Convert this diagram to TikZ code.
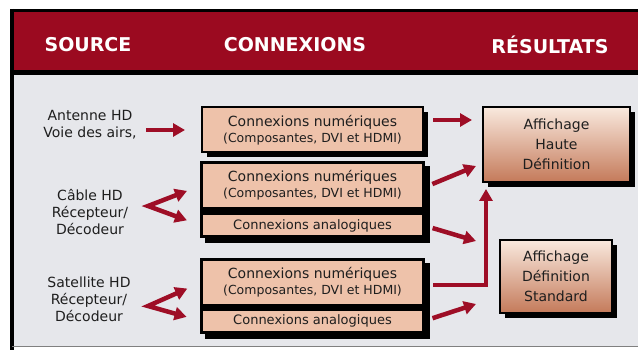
\documentclass[tikz,border=0pt]{standalone}
\usepackage{fontspec}
\setmainfont{DejaVu Sans}
\usetikzlibrary{arrows.meta,shadows,fit,backgrounds}

\definecolor{bandred}{RGB}{155,10,32}
\definecolor{arrred}{RGB}{158,14,38}
\definecolor{panel}{RGB}{230,231,235}
\definecolor{boxtan}{RGB}{238,194,170}
\definecolor{restop}{RGB}{249,233,222}
\definecolor{resbot}{RGB}{196,122,90}
\definecolor{ink}{RGB}{30,30,30}

\tikzset{
  head/.style={text=white, font=\fontsize{19}{22}\selectfont\bfseries},
  srctext/.style={text=ink, align=center, font=\fontsize{14}{17}\selectfont},
  shadowed/.style={drop shadow={shadow xshift=5pt, shadow yshift=-5pt, fill=black, opacity=1}},
  conbox/.style={draw=black, line width=2pt, fill=boxtan, inner sep=0pt,
    minimum width=221pt, text=ink, align=center},
  digbox/.style={conbox, minimum height=45pt, font=\fontsize{14}{17}\selectfont},
  anabox/.style={conbox, minimum height=22pt, font=\fontsize{13}{15}\selectfont},
  groupbox/.style={fill=black, inner sep=1pt, shadowed},
  resbox/.style={draw=black, line width=2pt, top color=restop, bottom color=resbot,
    inner sep=0pt, text=ink, align=center, font=\fontsize{14}{20}\selectfont, shadowed},
  arr/.style={draw=arrred, line width=4.5pt, -{Triangle[length=12pt,width=13pt]}},
  fork/.style={draw=arrred, line width=4.5pt, line join=miter,
    {Triangle[length=12pt,width=13pt]}-{Triangle[length=12pt,width=13pt]}},
}

\newcommand{\subline}[1]{\\[-1pt]{\fontsize{12.5}{15}\selectfont #1}}

\begin{document}
\begin{tikzpicture}[x=1pt, y=-1pt]
\useasboundingbox (0,0) rectangle (638,355);

% connexions
\node[digbox, shadowed] (dig-ant) at (312.5,130) {Connexions numériques\subline{(Composantes, DVI et HDMI)}};
\node[digbox] (dig-cab) at (312.5,185.5) {Connexions numériques\subline{(Composantes, DVI et HDMI)}};
\node[anabox] (ana-cab) at (312.5,225.5) {Connexions analogiques};
\node[digbox] (dig-sat) at (312.5,282.5) {Connexions numériques\subline{(Composantes, DVI et HDMI)}};
\node[anabox] (ana-sat) at (312.5,321) {Connexions analogiques};

\begin{scope}[on background layer]
  % frame and header band
  \fill[white] (0,0) rectangle (638,355);
  \fill[panel] (10,73) rectangle (638,347);
  \fill[black] (10,9) rectangle (638,75);
  \fill[bandred] (14,12) rectangle (638,70);
  \draw[black, line width=4pt] (12,9) -- (12,350);
  \draw[gray, line width=1pt] (12,346.5) -- (638,346.5);
  \node[groupbox, fit=(dig-cab)(ana-cab)] (grp-cab) {};
  \node[groupbox, fit=(dig-sat)(ana-sat)] (grp-sat) {};
\end{scope}

% headers
\node[head] (h-src) at (88,45) {SOURCE};
\node[head] (h-con) at (295,45) {CONNEXIONS};
\node[head] (h-res) at (550,45) {RÉSULTATS};

% sources
\node[srctext] (src-ant) at (90,125) {Antenne HD\\Voie des airs,};
\node[srctext] (src-cab) at (90,212) {Câble HD\\Récepteur/\\Décodeur};
\node[srctext] (src-sat) at (89,299) {Satellite HD\\Récepteur/\\Décodeur};

% results
\node[resbox, minimum width=147pt, minimum height=75pt] (res-hd) at (556.5,144.5) {Affichage\\Haute\\Définition};
\node[resbox, minimum width=112pt, minimum height=73pt] (res-sd) at (556,276.5) {Affichage\\Définition\\Standard};

% arrows into the connexions
\draw[arr, shorten >=16pt] ([xshift=-55pt]dig-ant.west) -- (dig-ant.west);
\coordinate (cab-split) at (148,206);
\coordinate (sat-split) at (148,306);
\draw[fork, shorten <=15pt, shorten >=15pt] (dig-cab.west) -- (cab-split) -- (ana-cab.west);
\draw[fork, shorten <=15pt, shorten >=15pt] (dig-sat.west) -- (sat-split) -- (ana-sat.west);

% arrows to the displays
\draw[arr, shorten <=9pt, shorten >=10pt] ([yshift=10pt]dig-ant.east) -- ([yshift=10pt]dig-ant.east -| res-hd.west);
\draw[arr, shorten <=9pt] ([yshift=-2pt]dig-cab.east) -- ([xshift=-6pt,yshift=17pt]res-hd.south west);
\draw[arr, shorten <=9pt] (ana-cab.east) -- ([xshift=-23pt,yshift=-2pt]res-sd.north west);
\draw[arr, shorten <=9pt] ([yshift=-2.5pt]dig-sat.east) -| ([xshift=4pt,yshift=-6pt]res-hd.south west);
\draw[arr, shorten <=9pt] (ana-sat.east) -- ([xshift=-23pt,yshift=10pt]res-sd.south west);
\end{tikzpicture}
\end{document}
